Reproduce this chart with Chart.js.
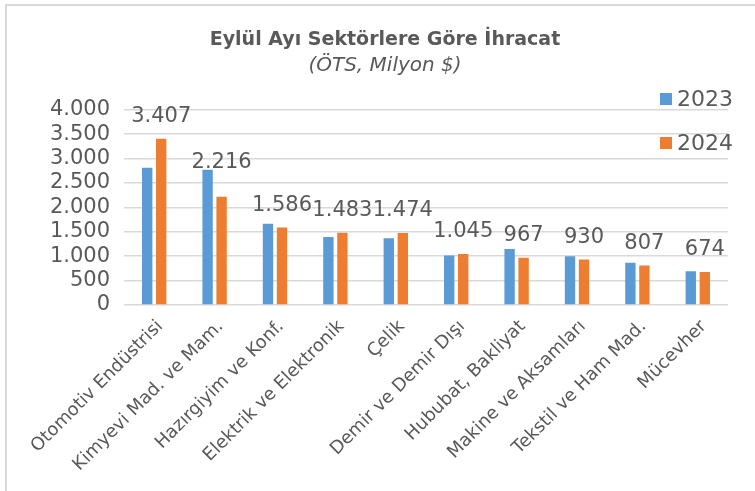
<!DOCTYPE html>
<html>
<head>
<meta charset="utf-8">
<script src="https://cdn.jsdelivr.net/npm/chart.js@4"></script>
<style>
    body { margin: 0; background: #fff; }
    #wrap { position: relative; width: 755px; height: 491px; overflow: hidden; }
    #frame { position: absolute; left: 5px; top: 4px; width: 800px; height: 600px; border: 2px solid #d9d9d9; }
</style>
</head>
<body>
<div id="wrap">
    <div id="frame"></div>
    <canvas id="chart"></canvas>
</div>
<script>
const categories = ['Otomotiv Endüstrisi', 'Kimyevi Mad. ve Mam.', 'Hazırgiyim ve Konf.', 'Elektrik ve Elektronik', 'Çelik',
    'Demir ve Demir Dışı', 'Hububat, Bakliyat', 'Makine ve Aksamları', 'Tekstil ve Ham Mad.', 'Mücevher'];
const values2023 = [2810, 2769, 1667, 1395, 1367, 1014, 1150, 1000, 864, 694];
const values2024 = [3407, 2216, 1586, 1483, 1474, 1045, 967, 930, 807, 674];
const yMax = 4000;
const yStep = 500;

const textColor = '#595959';
const fontName = '"DejaVu Sans", sans-serif';

const fmt = (n) => String(n).replace(/\B(?=(\d{3})+(?!\d))/g, '.');

// values on top of the 2024 bars, kept clear of the 2023 bar next to them
const dataLabels = {
    id: 'dataLabels',
    afterDatasetsDraw(chart) {
        const ctx = chart.ctx;
        const prev = chart.getDatasetMeta(0);
        const meta = chart.getDatasetMeta(1);
        ctx.save();
        ctx.font = '21px ' + fontName;
        ctx.fillStyle = textColor;
        ctx.textAlign = 'center';
        ctx.textBaseline = 'alphabetic';
        meta.data.forEach((bar, i) => {
            const y = Math.min(bar.y - 17, prev.data[i].y - 2);
            ctx.fillText(fmt(values2024[i]), bar.x, y);
        });
        ctx.restore();
    }
};

// legend stacked at the top right, over the grid
const sideLegend = {
    id: 'sideLegend',
    afterDraw(chart) {
        const ctx = chart.ctx;
        const x = chart.width - 95;
        ctx.save();
        ctx.font = '22px ' + fontName;
        ctx.textBaseline = 'middle';
        chart.data.datasets.forEach((ds, i) => {
            const y = 99 + i * 44;
            ctx.fillStyle = ds.backgroundColor;
            ctx.fillRect(x, y - 6, 12, 12);
            ctx.fillStyle = textColor;
            ctx.fillText(ds.label, x + 17, y + 1);
        });
        ctx.restore();
    }
};

const chart = document.querySelector('#chart').getContext('2d');

new Chart(chart, {
    type: 'bar',
    data: {
        labels: categories,
        datasets: [
            {
                label: '2023',
                data: values2023,
                backgroundColor: '#5b9bd5',
            },
            {
                label: '2024',
                data: values2024,
                backgroundColor: '#ed7d31',
            }
        ]
    },
    options: {
        responsive: true,
        maintainAspectRatio: false,
        animation: false,
        layout: { padding: { left: 42, right: 27 } },
        datasets: {
            bar: { categoryPercentage: 0.464, barPercentage: 0.74 }
        },
        plugins: {
            legend: { display: false },
            tooltip: { enabled: false },
            title: {
                display: true,
                text: 'Eylül Ayı Sektörlere Göre İhracat',
                color: textColor,
                font: { family: fontName, size: 19, weight: 'bold' },
                padding: { top: 29, bottom: 0 }
            },
            subtitle: {
                display: true,
                text: '(ÖTS, Milyon $)',
                color: textColor,
                font: { family: fontName, size: 20, style: 'italic' },
                padding: { top: 2, bottom: 32 }
            }
        },
        scales: {
            x: {
                grid: { display: false, drawTicks: false },
                border: { display: false },
                ticks: {
                    color: textColor,
                    font: { family: fontName, size: 18 },
                    minRotation: 45,
                    maxRotation: 45,
                    padding: 11,
                    labelOffset: 6,
                    autoSkip: false
                },
                afterFit: (s) => { s.height = 186; }
            },
            y: {
                min: 0,
                max: yMax,
                grid: { color: '#d9d9d9', lineWidth: 1.5, drawTicks: false },
                border: { display: false },
                ticks: {
                    stepSize: yStep,
                    autoSkip: false,
                    color: textColor,
                    font: { family: fontName, size: 21 },
                    padding: 14,
                    callback: (v) => fmt(v)
                },
                afterFit: (s) => { s.width = 82; }
            }
        }
    },
    plugins: [dataLabels, sideLegend]
});
</script>
</body>
</html>
